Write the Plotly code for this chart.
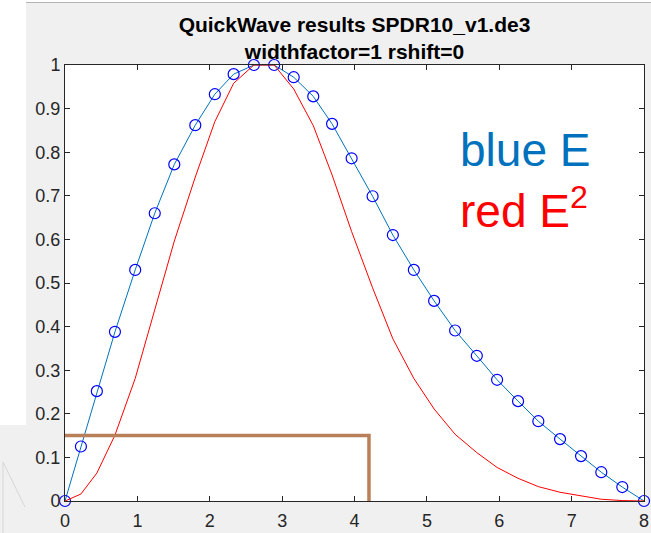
import plotly.graph_objects as go

# ---- data ----
x_vals = [0, 0.22, 0.44, 0.69, 0.97, 1.24, 1.51, 1.80, 2.07, 2.33, 2.61, 2.89,
          3.16, 3.43, 3.69, 3.96, 4.25, 4.53, 4.82, 5.10, 5.39, 5.69, 5.97,
          6.26, 6.54, 6.84, 7.13, 7.41, 7.70, 8.0]
e_vals = [0, 0.125, 0.252, 0.388, 0.53, 0.66, 0.772, 0.862, 0.933, 0.979, 1.0, 1.0,
          0.972, 0.928, 0.865, 0.786, 0.699, 0.61, 0.53, 0.459, 0.391, 0.333, 0.278,
          0.229, 0.183, 0.142, 0.103, 0.066, 0.032, 0]
e2_vals = [0, 0.016, 0.064, 0.151, 0.281, 0.436, 0.596, 0.743, 0.870, 0.958, 1.0, 1.0,
           0.945, 0.861, 0.748, 0.618, 0.489, 0.372, 0.281, 0.211, 0.153, 0.111, 0.077,
           0.052, 0.033, 0.020, 0.011, 0.004, 0.001, 0]
bracket_x = [0, 4.2, 4.2]
bracket_y = [0.15, 0.15, -0.006]
x_ticks = [0, 1, 2, 3, 4, 5, 6, 7, 8]
y_ticks = [0, 0.1, 0.2, 0.3, 0.4, 0.5, 0.6, 0.7, 0.8, 0.9, 1]
y_ticklabels = ["0", "0.1", "0.2", "0.3", "0.4", "0.5", "0.6", "0.7", "0.8", "0.9", "1"]
title_lines = ["QuickWave results SPDR10_v1.de3", "widthfactor=1 rshift=0"]

W, H = 651, 533
ML, MR, MT, MB = 65, 7, 65, 32
PW, PH = W - ML - MR, H - MT - MB


def px(xp):
    return (xp - ML) / PW


def py(yp):
    return (H - MB - yp) / PH


FONT = "Liberation Sans, Arial, Helvetica, sans-serif"
AX = "#262626"

fig = go.Figure()
fig.add_trace(go.Scatter(x=x_vals, y=e_vals, mode="lines+markers",
                         line=dict(color="#0072BD", width=1),
                         marker=dict(symbol="circle-open", size=11,
                                     color="#0000FF", line=dict(width=1.2, color="#0000FF")),
                         cliponaxis=False, showlegend=False))
fig.add_trace(go.Scatter(x=x_vals, y=e2_vals, mode="lines",
                         line=dict(color="#FF0000", width=1),
                         cliponaxis=False, showlegend=False))
fig.add_trace(go.Scatter(x=bracket_x, y=bracket_y, mode="lines",
                         line=dict(color="rgb(185,127,88)", width=3.5),
                         cliponaxis=False, showlegend=False))

shapes = [
    # white strips from the surrounding screenshot
    dict(type="rect", xref="paper", yref="paper", x0=px(0), x1=px(W), y0=py(0), y1=py(2),
         fillcolor="white", line=dict(width=0), layer="below"),
    dict(type="line", xref="paper", yref="paper", x0=px(26), x1=px(W), y0=py(2.5), y1=py(2.5),
         line=dict(color="#b4b4b4", width=1), layer="below"),
    dict(type="rect", xref="paper", yref="paper", x0=px(0), x1=px(26), y0=py(0), y1=py(425),
         fillcolor="white", line=dict(width=0), layer="below"),
    dict(type="line", xref="paper", yref="paper", x0=px(3), x1=px(3), y0=py(462), y1=py(533),
         line=dict(color="#d6d6d6", width=1), layer="below"),
    dict(type="line", xref="paper", yref="paper", x0=px(3), x1=px(25), y0=py(462), y1=py(507),
         line=dict(color="#d6d6d6", width=1), layer="below"),
]

annotations = [
    dict(x=5.43, y=0.805, xref="x", yref="y", text="blue E", showarrow=False,
         xanchor="left", yanchor="middle", font=dict(family=FONT, size=46, color="#0072BD")),
    dict(x=5.43, y=0.672, xref="x", yref="y", text="red E<sup>2</sup>", showarrow=False,
         xanchor="left", yanchor="middle", font=dict(family=FONT, size=46, color="#FF0000")),
]

fig.update_layout(
    width=W, height=H,
    margin=dict(l=ML, r=MR, t=MT, b=MB, autoexpand=False),
    paper_bgcolor="#F0F0F0", plot_bgcolor="white",
    font=dict(family=FONT, size=18, color=AX),
    title=dict(text="<b>" + title_lines[0] + "</b><br><b>" + title_lines[1] + "</b>",
               x=0.5, xref="paper", xanchor="center",
               y=1 - 32 / H, yref="container", yanchor="middle",
               font=dict(family=FONT, size=21, color="black"), automargin=False),
    shapes=shapes, annotations=annotations,
    xaxis=dict(range=[0, 8], tickvals=x_ticks, ticks="inside", ticklen=5, tickcolor=AX,
               showline=True, linecolor=AX, linewidth=1, mirror="ticks", showgrid=False,
               zeroline=False, automargin=False, ticklabelstandoff=3,
               tickfont=dict(size=18, color=AX)),
    yaxis=dict(range=[0, 1], tickvals=y_ticks, ticktext=y_ticklabels, ticks="inside",
               ticklen=5, tickcolor=AX, showline=True, linecolor=AX, linewidth=1,
               mirror="ticks", showgrid=False, zeroline=False, automargin=False,
               tickfont=dict(size=18, color=AX)),
)

fig.write_html("out.html")
